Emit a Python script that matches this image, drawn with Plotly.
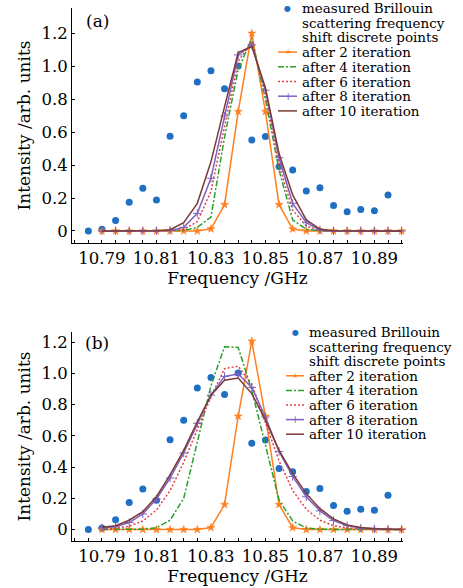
import plotly.graph_objects as go

W, H = 463, 588
ML, MR, MT, MB = 72, 60, 8, 47

# measured points and iteration curves
freq_meas = [10.785, 10.790, 10.795, 10.800, 10.805, 10.810, 10.815, 10.820,
             10.825, 10.830, 10.835, 10.840, 10.845, 10.850, 10.855, 10.860,
             10.865, 10.870, 10.875, 10.880, 10.885, 10.890, 10.895]
meas = [0.0, 0.010, 0.063, 0.174, 0.259, 0.188, 0.575, 0.700, 0.905, 0.973,
        0.864, 1.002, 0.552, 0.573, 0.391, 0.370, 0.243, 0.263, 0.154, 0.117,
        0.130, 0.123, 0.219]

freq_fit = [10.790, 10.795, 10.800, 10.805, 10.810, 10.815, 10.820, 10.825,
            10.830, 10.835, 10.840, 10.845, 10.850, 10.855, 10.860, 10.865,
            10.870, 10.875, 10.880, 10.885, 10.890, 10.895, 10.900]

a_iter2 = [0, 0, 0, 0, 0, 0, 0, 0, 0.013, 0.16, 0.725, 1.2, 0.725, 0.16, 0.012,
           0, 0, 0, 0, 0, 0, 0, 0]
a_iter4 = [0, 0, 0, 0, 0, 0, 0.003, 0.022, 0.085, 0.57, 0.98, 1.17, 0.80, 0.37,
           0.067, 0.01, 0, 0, 0, 0, 0, 0, 0]
a_iter6 = [0, 0, 0, 0, 0, 0.002, 0.01, 0.057, 0.24, 0.64, 1.03, 1.15, 0.83, 0.40,
           0.127, 0.03, 0.003, 0, 0, 0, 0, 0, 0]
a_iter8 = [0, 0, 0, 0, 0, 0.003, 0.022, 0.107, 0.32, 0.698, 1.069, 1.13, 0.855,
           0.445, 0.168, 0.05, 0.006, 0, 0, 0, 0, 0, 0]
a_iter10 = [0, 0, 0, 0, 0.002, 0.008, 0.05, 0.168, 0.42, 0.755, 1.083, 1.12, 0.87,
            0.47, 0.219, 0.067, 0.012, 0.002, 0, 0, 0, 0, 0]

b_iter2 = [0, 0, 0, 0, 0, 0, 0, 0, 0.013, 0.16, 0.725, 1.205, 0.725, 0.16, 0.012,
           0, 0, 0, 0, 0, 0, 0, 0]
b_iter4 = [0.001, 0.001, 0.002, 0.003, 0.012, 0.06, 0.2, 0.56, 0.92, 1.17, 1.165,
           0.89, 0.53, 0.19, 0.055, 0.01, 0.002, 0, 0, 0, 0, 0, 0]
b_iter6 = [0.003, 0.008, 0.022, 0.055, 0.125, 0.25, 0.43, 0.64, 0.85, 1.03, 1.045,
           0.93, 0.69, 0.44, 0.25, 0.13, 0.06, 0.025, 0.01, 0.004, 0.001, 0, 0]
b_iter8 = [0.01, 0.018, 0.045, 0.1, 0.195, 0.33, 0.49, 0.68, 0.86, 0.98, 0.995,
           0.91, 0.72, 0.5, 0.34, 0.21, 0.12, 0.058, 0.025, 0.01, 0.004, 0.002, 0.001]
b_iter10 = [0.015, 0.025, 0.06, 0.115, 0.21, 0.35, 0.507, 0.69, 0.86, 0.955, 0.97,
            0.87, 0.70, 0.507, 0.358, 0.23, 0.134, 0.068, 0.03, 0.013, 0.006, 0.003, 0.001]

y_ticks = [0, 0.2, 0.4, 0.6, 0.8, 1.0, 1.2]
y_labels = ["0", "0.2", "0.4", "0.6", "0.8", "1.0", "1.2"]

legend_meas = ["measured Brillouin", "scattering frequency", "shift discrete points"]
legend_iter = ["after 2 iteration", "after 4 iteration", "after 6 iteration",
               "after 8 iteration", "after 10 iteration"]

C_BLUE = "#1f6fc4"
C_ORANGE = "#ff7f1e"
C_GREEN = "#2ca02c"
C_RED = "#e0404a"
C_PURPLE = "#8060c0"
C_BROWN = "#7a3b35"
FONT = "DejaVu Serif"

styles = [
    dict(color=C_ORANGE, dash="solid", symbol="star"),
    dict(color=C_GREEN, dash="6px,2px,2px,2px", symbol=None),
    dict(color=C_RED, dash="2px,2px", symbol=None),
    dict(color=C_PURPLE, dash="solid", symbol="cross-thin"),
    dict(color=C_BROWN, dash="solid", symbol=None),
]

fig = go.Figure()

panels = [
    ("x", "y", [a_iter2, a_iter4, a_iter6, a_iter8, a_iter10]),
    ("x2", "y2", [b_iter2, b_iter4, b_iter6, b_iter8, b_iter10]),
]

for xa, ya, curves in panels:
    fig.add_trace(go.Scatter(x=freq_meas, y=meas, mode="markers", xaxis=xa, yaxis=ya,
                             marker=dict(color=C_BLUE, size=7), showlegend=False,
                             cliponaxis=False))
    for ys, st in zip(curves, styles):
        if st["symbol"] == "star":
            mk = dict(symbol="star", size=6, color=st["color"],
                      line=dict(color=st["color"], width=0.5))
            mode = "lines+markers"
        elif st["symbol"] == "cross-thin":
            mk = dict(symbol="cross-thin", size=6, color=st["color"],
                      line=dict(color=st["color"], width=1))
            mode = "lines+markers"
        else:
            mk = None
            mode = "lines"
        fig.add_trace(go.Scatter(x=freq_fit, y=ys, mode=mode, xaxis=xa, yaxis=ya,
                                 line=dict(color=st["color"], width=1.5, dash=st["dash"]),
                                 marker=mk, showlegend=False, cliponaxis=False))


def px_x(p):
    return (p - ML) / (W - ML - MR)


def px_y(p):
    return (H - MB - p) / (H - MT - MB)


annotations = []
shapes = []


def add_legend(x0, x1, xt, ytop, step):
    xc = (x0 + x1) / 2
    annotations.append(dict(x=px_x(xc), y=px_y(ytop), xref="paper", yref="paper",
                            text="●", showarrow=False, xanchor="center", yanchor="middle",
                            font=dict(family="DejaVu Sans", size=8, color=C_BLUE)))
    for i, t in enumerate(legend_meas):
        annotations.append(dict(x=px_x(xt), y=px_y(ytop + i * step), xref="paper", yref="paper",
                                text=t, showarrow=False, xanchor="left", yanchor="middle",
                                font=dict(family=FONT, size=13.5, color="black")))
    for j, (t, st) in enumerate(zip(legend_iter, styles)):
        yy = ytop + (j + 3) * step
        shapes.append(dict(type="line", xref="paper", yref="paper",
                           x0=px_x(x0), x1=px_x(x1), y0=px_y(yy), y1=px_y(yy),
                           line=dict(color=st["color"], width=1.5, dash=st["dash"])))
        if st["symbol"] == "star":
            annotations.append(dict(x=px_x(xc), y=px_y(yy), xref="paper", yref="paper",
                                    text="★", showarrow=False, xanchor="center", yanchor="middle",
                                    font=dict(family="DejaVu Sans", size=7, color=st["color"])))
        elif st["symbol"] == "cross-thin":
            annotations.append(dict(x=px_x(xc), y=px_y(yy), xref="paper", yref="paper",
                                    text="+", showarrow=False, xanchor="center", yanchor="middle",
                                    font=dict(family="DejaVu Sans", size=10, color=st["color"])))
        annotations.append(dict(x=px_x(xt), y=px_y(yy), xref="paper", yref="paper",
                                text=t, showarrow=False, xanchor="left", yanchor="middle",
                                font=dict(family=FONT, size=13.5, color="black")))


add_legend(278, 297, 300, 8, 14.7)
add_legend(286, 304, 307, 332, 14.6)

annotations.append(dict(x=px_x(97), y=px_y(20.5), xref="paper", yref="paper", text="(a)",
                        showarrow=False, xanchor="center", yanchor="middle",
                        font=dict(family=FONT, size=17, color="black")))
annotations.append(dict(x=px_x(97), y=px_y(343), xref="paper", yref="paper", text="(b)",
                        showarrow=False, xanchor="center", yanchor="middle",
                        font=dict(family=FONT, size=17, color="black")))

xcommon = dict(range=[10.779, 10.9005], showline=True, linecolor="black", linewidth=1,
               ticks="inside", ticklen=3, tickcolor="black", tick0=10.79, dtick=0.02,
               tickformat=".2f", showgrid=False, zeroline=False, automargin=False,
               minor=dict(ticks="inside", ticklen=3, tick0=10.79, dtick=0.005, tickcolor="black"),
               tickfont=dict(family=FONT, size=16.5, color="black"),
               title=dict(text="Frequency /GHz", standoff=2,
                          font=dict(family=FONT, size=17, color="black")))
ycommon = dict(showline=True, linecolor="black", linewidth=1, ticks="inside", ticklen=3,
               tickcolor="black", tickmode="array", tickvals=y_ticks, ticktext=y_labels,
               showgrid=False, zeroline=False, automargin=False,
               tickfont=dict(family=FONT, size=16.5, color="black"),
               title=dict(text="Intensity /arb. units", standoff=6,
                          font=dict(family=FONT, size=17, color="black")))

fig.update_layout(
    width=W, height=H,
    margin=dict(l=ML, r=MR, t=MT, b=MB),
    paper_bgcolor="white", plot_bgcolor="white",
    showlegend=False,
    xaxis=dict(xcommon, domain=[0, 1], anchor="y"),
    yaxis=dict(ycommon, domain=[px_y(243), 1], anchor="x", range=[-0.073, 1.354]),
    xaxis2=dict(xcommon, domain=[0, 1], anchor="y2"),
    yaxis2=dict(ycommon, domain=[0, px_y(332)], anchor="x2", range=[-0.073, 1.264]),
    annotations=annotations,
    shapes=shapes,
)

# the page body has a default 8px margin; drop it so the figure sits at the window corner
fig.write_html("out.html", config={"displayModeBar": False},
               post_script="document.body.style.margin='0';")
